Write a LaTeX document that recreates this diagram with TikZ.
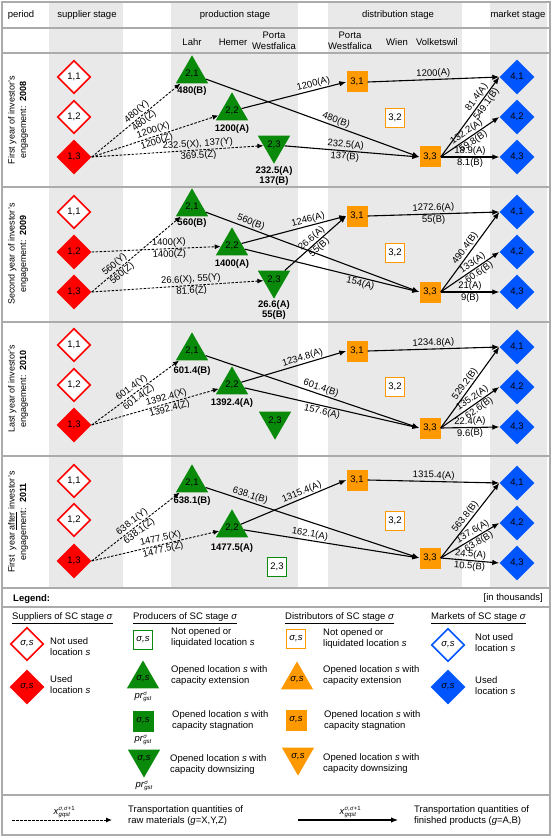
\documentclass[tikz,border=0pt]{standalone}
\usepackage{fontspec}
\setmainfont{Liberation Sans}
\usepackage{tikz}
\usetikzlibrary{shapes.geometric,arrows.meta,positioning}
\definecolor{SupplierRed}{HTML}{FF0000}
\definecolor{ProducerGreen}{HTML}{0A8A0A}
\definecolor{DistribOrange}{HTML}{FF9900}
\definecolor{MarketBlue}{HTML}{0055FF}
\definecolor{StageShade}{HTML}{E9E9E9}
\definecolor{RuleGray}{HTML}{ABABAB}
\newcommand{\prgst}{\textit{pr}\rlap{\raisebox{3.4pt}{\fontsize{6}{6}\selectfont\textit{σ}}}\raisebox{-2pt}{\fontsize{6}{6}\selectfont\textit{gst}}}
\newcommand{\xflow}{\textit{x}\rlap{\raisebox{3.6pt}{\fontsize{6}{6}\selectfont\textit{σ,σ}+1}}\raisebox{-2pt}{\fontsize{6}{6}\selectfont\textit{gqst}}}
\tikzset{
  every node/.style={font=\fontsize{9.5}{11}\selectfont},
  supfree/.style={diamond, draw=SupplierRed, line width=1.6pt, fill=white, minimum width=33pt, minimum height=33pt, inner sep=0pt},
  supused/.style={diamond, fill=SupplierRed, minimum width=35pt, minimum height=35pt, inner sep=0pt},
  mktfree/.style={diamond, draw=MarketBlue, line width=1.6pt, fill=white, minimum width=33pt, minimum height=33pt, inner sep=0pt},
  market/.style={diamond, fill=MarketBlue, minimum width=35pt, minimum height=35pt, inner sep=0pt},
  prodgrow/.style={regular polygon, regular polygon sides=3, fill=ProducerGreen, minimum size=36pt, inner sep=0pt},
  prodshrink/.style={prodgrow, shape border rotate=180},
  prodkeep/.style={rectangle, fill=ProducerGreen, minimum size=21pt, inner sep=0pt},
  prodfree/.style={rectangle, draw=ProducerGreen, line width=1.6pt, fill=white, minimum size=19pt, inner sep=0pt},
  distgrow/.style={prodgrow, fill=DistribOrange},
  distshrink/.style={prodshrink, fill=DistribOrange},
  distuse/.style={rectangle, fill=DistribOrange, minimum size=21pt, inner sep=0pt},
  distfree/.style={rectangle, draw=DistribOrange, line width=1.6pt, fill=white, minimum size=19pt, inner sep=0pt},
  prodqty/.style={font=\bfseries\fontsize{9.5}{10.5}\selectfont, align=center, inner sep=0pt},
  periodlbl/.style={rotate=90, align=center, font=\fontsize{9}{11.5}\selectfont},
  legtext/.style={anchor=west, align=left, inner sep=0pt},
  prlbl/.style={inner sep=0pt},
  qty/.style={sloped, inner sep=1pt},
  rawflow/.style={line width=0.9pt, dash pattern=on 2.5pt off 1.5pt, -{Latex[length=6pt,width=5pt]}},
  goodsflow/.style={line width=1.1pt, -{Latex[length=7pt,width=5.5pt]}}
}

\begin{document}
\begin{tikzpicture}[x=1pt, y=-1pt]
  \useasboundingbox (0,0) rectangle (553,837);

  % Stage columns
  \foreach \xa/\xb in {49/123, 171/298, 328/462, 490/547} {
    \fill[StageShade] (\xa,2) rectangle (\xb,588);
  }

  % Rules and frame
  \foreach \y in {28, 53, 187, 322, 456, 588, 607, 795} {
    \draw[RuleGray, line width=1.5pt] (2,\y) -- (550,\y);
  }
  \draw[RuleGray, line width=1.5pt] (2,2) rectangle (550,835);

  % Header
  \node (hPeriod) at (21,15) {period};
  \node (hSup) at (87,15) {supplier stage};
  \node (hProd) at (235,15) {production stage};
  \node (hDist) at (398,15) {distribution stage};
  \node (hMkt) at (518,15) {market stage};
  \node (hLahr) at (192,42) {Lahr};
  \node (hHemer) at (233,42) {Hemer};
  \node[align=center] (hPortaP) at (274,41) {Porta\\Westfalica};
  \node[align=center] (hPortaD) at (350,41) {Porta\\Westfalica};
  \node (hWien) at (397,42) {Wien};
  \node (hVolk) at (437,42) {Volketswil};

  % 2008
  \node[periodlbl] (per08) at (18,120) {First year of investor's\\engagement:\ \ \textbf{2008}};
  \node[supfree] (y8s1) at (74,77) {1,1};
  \node[supfree] (y8s2) at (74,117) {1,2};
  \node[supused] (y8s3) at (74,157) {1,3};
  \node[prodgrow] (y8p1) at (192,74) {2,1};
  \node[prodqty] (y8p1q) at (192,91) {480(B)};
  \node[prodgrow] (y8p2) at (232,111) {2,2};
  \node[prodqty] (y8p2q) at (232,129) {1200(A)};
  \node[prodshrink] (y8p3) at (274,145) {2,3};
  \node[prodqty] (y8p3q) at (274,176) {232.5(A)\\137(B)};
  \node[distuse] (y8d1) at (357,82) {3,1};
  \node[distfree] (y8d2) at (395,118) {3,2};
  \node[distuse] (y8d3) at (430,157) {3,3};
  \node[market] (y8m1) at (517,77) {4,1};
  \node[market] (y8m2) at (517,117) {4,2};
  \node[market] (y8m3) at (517,157) {4,3};
  \draw[rawflow] (y8s3.east) -- node[qty, above, pos=.55] (q8a) {480(Y)} node[qty, below, pos=.55] (q8b) {480(Z)} (y8p1);
  \draw[rawflow] (y8s3.east) -- node[qty, above, pos=.5] (q8c) {1200(X)} node[qty, below, pos=.5] (q8d) {1200(Z)} (y8p2);
  \draw[rawflow] (y8s3.east) -- node[qty, above, pos=.62] (q8e) {232.5(X), 137(Y)} node[qty, below, pos=.62] (q8f) {369.5(Z)} (y8p3);
  \draw[goodsflow] (y8p1) -- node[qty, above, pos=.6] (q8g) {480(B)} (y8d3.west);
  \draw[goodsflow] (y8p2) -- node[qty, above, pos=.7] (q8h) {1200(A)} (y8d1.west);
  \draw[goodsflow] (y8p3) -- node[qty, above, pos=.45] (q8i) {232.5(A)} node[qty, below, pos=.45] (q8j) {137(B)} (y8d3.west);
  \draw[goodsflow] (y8d1.east) -- node[qty, above] (q8k) {1200(A)} (y8m1.west);
  \draw[goodsflow] (y8d3.east) -- node[qty, above, pos=.7] (q8l) {81.4(A)} node[qty, below, pos=.7] (q8m) {549.1(B)} (y8m1.west);
  \draw[goodsflow] (y8d3.east) -- node[qty, above] (q8n) {132.2(A)} node[qty, below] (q8o) {59.8(B)} (y8m2.west);
  \draw[goodsflow] (y8d3.east) -- node[qty, above] (q8p) {18.9(A)} node[qty, below] (q8q) {8.1(B)} (y8m3.west);

  % 2009
  \node[periodlbl] (per09) at (18,254) {Second year of investor's\\engagement:\ \ \textbf{2009}};
  \node[supfree] (y9s1) at (74,212) {1,1};
  \node[supused] (y9s2) at (74,252) {1,2};
  \node[supused] (y9s3) at (74,292) {1,3};
  \node[prodgrow] (y9p1) at (192,207) {2,1};
  \node[prodqty] (y9p1q) at (192,223) {560(B)};
  \node[prodgrow] (y9p2) at (232,246) {2,2};
  \node[prodqty] (y9p2q) at (232,264) {1400(A)};
  \node[prodshrink] (y9p3) at (274,280) {2,3};
  \node[prodqty] (y9p3q) at (274,310) {26.6(A)\\55(B)};
  \node[distuse] (y9d1) at (357,216) {3,1};
  \node[distfree] (y9d2) at (395,253) {3,2};
  \node[distuse] (y9d3) at (430,292) {3,3};
  \node[market] (y9m1) at (517,212) {4,1};
  \node[market] (y9m2) at (517,252) {4,2};
  \node[market] (y9m3) at (517,292) {4,3};
  \draw[rawflow] (y9s2.east) -- node[qty, above, pos=.6] (q9a) {1400(X)} node[qty, below, pos=.6] (q9b) {1400(Z)} (y9p2);
  \draw[rawflow] (y9s3.east) -- node[qty, above, pos=.3] (q9c) {560(Y)} node[qty, below, pos=.3] (q9d) {560(Z)} (y9p1);
  \draw[rawflow] (y9s3.east) -- node[qty, above, pos=.58] (q9e) {26.6(X), 55(Y)} node[qty, below, pos=.58] (q9f) {81.6(Z)} (y9p3);
  \draw[goodsflow] (y9p1) -- node[qty, above, pos=.2] (q9g) {560(B)} (y9d3.west);
  \draw[goodsflow] (y9p2) -- node[qty, above, pos=.65] (q9h) {1246(A)} (y9d1.west);
  \draw[goodsflow] (y9p2) -- node[qty, below, pos=.67] (q9i) {154(A)} (y9d3.west);
  \draw[goodsflow] (y9p3) -- node[qty, above] (q9j) {26.6(A)} node[qty, below] (q9k) {55(B)} (y9d1.west);
  \draw[goodsflow] (y9d1.east) -- node[qty, above] (q9l) {1272.6(A)} node[qty, below] (q9m) {55(B)} (y9m1.west);
  \draw[goodsflow] (y9d3.east) -- node[qty, above] (q9n) {490.4(B)} (y9m1.west);
  \draw[goodsflow] (y9d3.east) -- node[qty, above, pos=.6] (q9o) {133(A)} node[qty, below, pos=.6] (q9p) {60.6(B)} (y9m2.west);
  \draw[goodsflow] (y9d3.east) -- node[qty, above] (q9q) {21(A)} node[qty, below] (q9r) {9(B)} (y9m3.west);

  % 2010
  \node[periodlbl] (per10) at (18,389) {Last year of investor's\\engagement:\ \ \textbf{2010}};
  \node[supfree] (y10s1) at (74,345) {1,1};
  \node[supfree] (y10s2) at (74,385) {1,2};
  \node[supused] (y10s3) at (74,425) {1,3};
  \node[prodgrow] (y10p1) at (192,351) {2,1};
  \node[prodqty] (y10p1q) at (192,371) {601.4(B)};
  \node[prodgrow] (y10p2) at (232,385) {2,2};
  \node[prodqty] (y10p2q) at (232,403) {1392.4(A)};
  \node[prodshrink] (y10p3) at (275,421) {2,3};
  \node[distuse] (y10d1) at (357,351) {3,1};
  \node[distfree] (y10d2) at (395,387) {3,2};
  \node[distuse] (y10d3) at (430,428) {3,3};
  \node[market] (y10m1) at (517,347) {4,1};
  \node[market] (y10m2) at (517,387) {4,2};
  \node[market] (y10m3) at (517,427) {4,3};
  \draw[rawflow] (y10s3.east) -- node[qty, above] (q10a) {601.4(Y)} node[qty, below] (q10b) {601.4(Z)} (y10p1);
  \draw[rawflow] (y10s3.east) -- node[qty, above, pos=.6] (q10c) {1392.4(X)} node[qty, below, pos=.6] (q10d) {1392.4(Z)} (y10p2);
  \draw[goodsflow] (y10p1) -- node[qty, above, pos=.53] (q10e) {601.4(B)} (y10d3.west);
  \draw[goodsflow] (y10p2) -- node[qty, above, pos=.6] (q10f) {1234.8(A)} (y10d1.west);
  \draw[goodsflow] (y10p2) -- node[qty, below, pos=.45] (q10g) {157.6(A)} (y10d3.west);
  \draw[goodsflow] (y10d1.east) -- node[qty, above] (q10h) {1234.8(A)} (y10m1.west);
  \draw[goodsflow] (y10d3.east) -- node[qty, above] (q10i) {529.2(B)} (y10m1.west);
  \draw[goodsflow] (y10d3.east) -- node[qty, above, pos=.6] (q10j) {135.2(A)} node[qty, below, pos=.6] (q10k) {62.6(B)} (y10m2.west);
  \draw[goodsflow] (y10d3.east) -- node[qty, above] (q10l) {22.4(A)} node[qty, below] (q10m) {9.6(B)} (y10m3.west);

  % 2011
  \node[periodlbl] (per11) at (18,522) {First\ \ year \underline{after} investor's\\engagement:\ \ \textbf{2011}};
  \node[supfree] (y11s1) at (74,481) {1,1};
  \node[supfree] (y11s2) at (74,520) {1,2};
  \node[supused] (y11s3) at (74,561) {1,3};
  \node[prodgrow] (y11p1) at (192,483) {2,1};
  \node[prodqty] (y11p1q) at (192,501) {638.1(B)};
  \node[prodgrow] (y11p2) at (232,528) {2,2};
  \node[prodqty] (y11p2q) at (232,548) {1477.5(A)};
  \node[prodfree] (y11p3) at (277,567) {2,3};
  \node[distuse] (y11d1) at (357,480) {3,1};
  \node[distfree] (y11d2) at (395,521) {3,2};
  \node[distuse] (y11d3) at (430,558) {3,3};
  \node[market] (y11m1) at (517,483) {4,1};
  \node[market] (y11m2) at (517,523) {4,2};
  \node[market] (y11m3) at (517,563) {4,3};
  \draw[rawflow] (y11s3.east) -- node[qty, above] (q11a) {638.1(Y)} node[qty, below] (q11b) {638.1(Z)} (y11p1);
  \draw[rawflow] (y11s3.east) -- node[qty, above, pos=.55] (q11c) {1477.5(X)} node[qty, below, pos=.55] (q11d) {1477.5(Z)} (y11p2);
  \draw[goodsflow] (y11p1) -- node[qty, above, pos=.2] (q11e) {638.1(B)} (y11d3.west);
  \draw[goodsflow] (y11p2) -- node[qty, above, pos=.6] (q11f) {1315.4(A)} (y11d1.west);
  \draw[goodsflow] (y11p2) -- node[qty, above, pos=.37] (q11g) {162.1(A)} (y11d3.west);
  \draw[goodsflow] (y11d1.east) -- node[qty, above] (q11h) {1315.4(A)} (y11m1.west);
  \draw[goodsflow] (y11d3.east) -- node[qty, above] (q11i) {563.8(B)} (y11m1.west);
  \draw[goodsflow] (y11d3.east) -- node[qty, above, pos=.6] (q11j) {137.6(A)} node[qty, below, pos=.6] (q11k) {63.8(B)} (y11m2.west);
  \draw[goodsflow] (y11d3.east) -- node[qty, above] (q11l) {24.5(A)} node[qty, below] (q11m) {10.5(B)} (y11m3.west);

  % Legend
  \node[font=\bfseries\fontsize{9.5}{11}\selectfont, anchor=west, inner sep=0pt] (legTitle) at (13,599) {Legend:};
  \node[anchor=east, inner sep=0pt] (legUnit) at (543,598) {[in thousands]};
  \node[legtext] (legSup) at (12,618) {\underline{Suppliers of SC stage \textit{σ}}};
  \node[legtext] (legProd) at (133,618) {\underline{Producers of SC stage \textit{σ}}};
  \node[legtext] (legDist) at (285,618) {\underline{Distributors of SC stage \textit{σ}}};
  \node[legtext] (legMkt) at (431,618) {\underline{Markets of SC stage \textit{σ}}};

  \node[supfree] (lgS1) at (27,644) {\textit{σ,s}};
  \node[legtext] (lgS1t) at (50,647) {Not used\\location \textit{s}};
  \node[supused] (lgS2) at (27,687) {\textit{σ,s}};
  \node[legtext] (lgS2t) at (50,685) {Used\\location \textit{s}};

  \node[prodfree] (lgP1) at (143,640) {\textit{σ,s}};
  \node[legtext] (lgP1t) at (171,638) {Not opened or\\liquidated location \textit{s}};
  \node[prodgrow] (lgP2) at (143,679) {\textit{σ,s}};
  \node[prlbl] (lgP2r) at (143,697) {\prgst};
  \node[legtext] (lgP2t) at (171,676) {Opened location \textit{s} with\\capacity extension};
  \node[prodkeep] (lgP3) at (143,721) {\textit{σ,s}};
  \node[prlbl] (lgP3r) at (143,740) {\prgst};
  \node[legtext] (lgP3t) at (172,721) {Opened location \textit{s} with\\capacity stagnation};
  \node[prodshrink] (lgP4) at (144,759) {\textit{σ,s}};
  \node[prlbl] (lgP4r) at (144,786) {\prgst};
  \node[legtext] (lgP4t) at (170,765) {Opened location \textit{s} with\\capacity downsizing};

  \node[distfree] (lgD1) at (296,639) {\textit{σ,s}};
  \node[legtext] (lgD1t) at (323,639) {Not opened or\\liquidated location \textit{s}};
  \node[distgrow] (lgD2) at (297,680) {\textit{σ,s}};
  \node[legtext] (lgD2t) at (323,676) {Opened location \textit{s} with\\capacity extension};
  \node[distuse] (lgD3) at (296,720) {\textit{σ,s}};
  \node[legtext] (lgD3t) at (324,721) {Opened location \textit{s} with\\capacity stagnation};
  \node[distshrink] (lgD4) at (298,757) {\textit{σ,s}};
  \node[legtext] (lgD4t) at (323,764) {Opened location \textit{s} with\\capacity downsizing};

  \node[mktfree] (lgM1) at (448,645) {\textit{σ,s}};
  \node[legtext] (lgM1t) at (475,643) {Not used\\location \textit{s}};
  \node[market] (lgM2) at (448,687) {\textit{σ,s}};
  \node[legtext] (lgM2t) at (475,686) {Used\\location \textit{s}};

  % Flow legend
  \coordinate (rawFrom) at (12,820);
  \coordinate (rawTo) at (112,820);
  \draw[rawflow] (rawFrom) -- node[above, inner sep=2pt] (rawLbl) {\xflow} (rawTo);
  \node[legtext] (rawTxt) at (128,816) {Transportation quantities of\\raw materials (\textit{g}=X,Y,Z)};
  \coordinate (goodsFrom) at (298,820);
  \coordinate (goodsTo) at (398,820);
  \draw[goodsflow] (goodsFrom) -- node[above, inner sep=2pt] (goodsLbl) {\xflow} (goodsTo);
  \node[legtext] (goodsTxt) at (414,816) {Transportation quantities of\\finished products (\textit{g}=A,B)};
\end{tikzpicture}
\end{document}
